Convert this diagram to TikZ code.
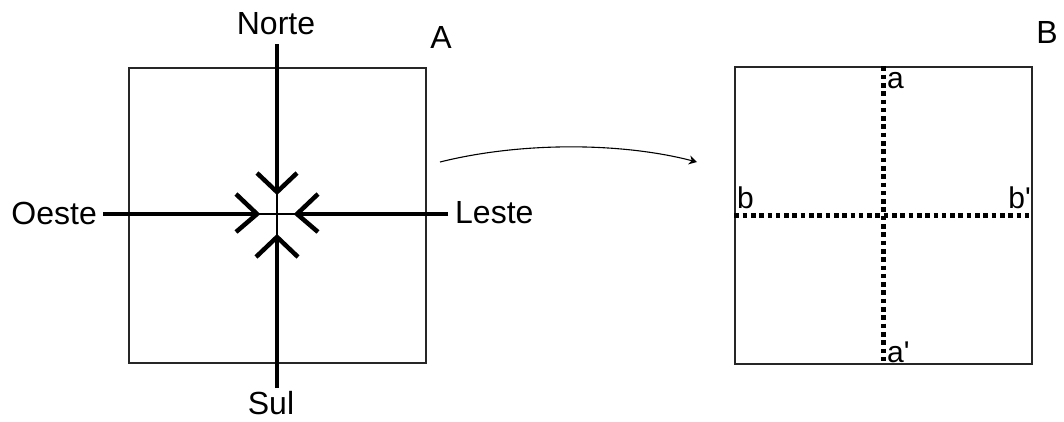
\documentclass[tikz,border=0pt]{standalone}
\usepackage{fontspec}
\setmainfont{Liberation Sans}
\usetikzlibrary{arrows.meta,calc}
\begin{document}
\begin{tikzpicture}[x=1pt,y=-1pt,
  boxline/.style={draw=black!85,line width=1.4pt},
  thickline/.style={line width=4.5pt},
  thinline/.style={line width=1.1pt},
  chevron/.style={line width=4.5pt,line join=miter},
  dotline/.style={line width=4.6pt,dash pattern=on 4.6pt off 3.7pt},
  lbl/.style={inner sep=0pt,font=\fontsize{32}{38}\selectfont},
  slbl/.style={inner sep=0pt,font=\fontsize{30}{36}\selectfont}]
\useasboundingbox (0,0) rectangle (1064,421);
% boxes
\node[boxline,minimum width=297pt,minimum height=295pt,inner sep=0pt] (boxA) at (277.5,215.5) {};
\node[boxline,minimum width=297pt,minimum height=297pt,inner sep=0pt] (boxB) at (883.5,215.5) {};
% labels
\node[lbl] (norte) at (276,24) {Norte};
\node[lbl] (A) at (441,37) {A};
\node[lbl] (B) at (1047,32) {B};
\node[lbl,anchor=east] (oeste) at (97,213) {Oeste};
\node[lbl,anchor=west] (leste) at (455,213) {Leste};
\node[lbl,anchor=base] (sul) at (271,414) {Sul};
% coordinates
\coordinate (c) at (277,214);
\coordinate (nS) at (277,44);
\coordinate (sS) at (277,388);
\coordinate (wS) at (103,214);
\coordinate (eS) at (448,214);
\coordinate (tN) at (277,192);
\coordinate (tS) at (277,237);
\coordinate (tW) at (257,214);
\coordinate (tE) at (297,214);
% thin cross
\draw[thinline] (tN) -- (tS);
\draw[thinline] (tW) -- (tE);
% thick lines
\draw[thickline] (nS) -- (tN);
\draw[thickline] (sS) -- (tS);
\draw[thickline] (wS) -- (tW);
\draw[thickline] (eS) -- (tE);
% chevrons
\draw[chevron] ($(tN)+(-20,-19)$) -- (tN) -- ($(tN)+(20,-19)$);
\draw[chevron] ($(tS)+(-21,20)$) -- (tS) -- ($(tS)+(21,20)$);
\draw[chevron] ($(tW)+(-21,-20)$) -- (tW) -- ($(tW)+(-21,18)$);
\draw[chevron] ($(tE)+(21,-20)$) -- (tE) -- ($(tE)+(21,18)$);
% curved arrow
\coordinate (cs) at (440,162);
\coordinate (ce) at (697,162);
\draw[line width=1.1pt,-{Stealth[length=8pt,width=9pt]}] (cs) .. controls (520,142) and (620,142) .. (ce);
% box B dotted lines
\draw[dotline] (boxB.north) -- (boxB.south);
\draw[dotline] (boxB.west) -- (boxB.east);
\node[slbl,anchor=base west] (a) at (887,88) {a};
\node[slbl,anchor=base west] (ap) at (887,362) {a\textquotesingle};
\node[slbl,anchor=base west] (b) at (737,208) {b};
\node[slbl,anchor=base east] (bp) at (1031,208) {b\textquotesingle};
\end{tikzpicture}
\end{document}
